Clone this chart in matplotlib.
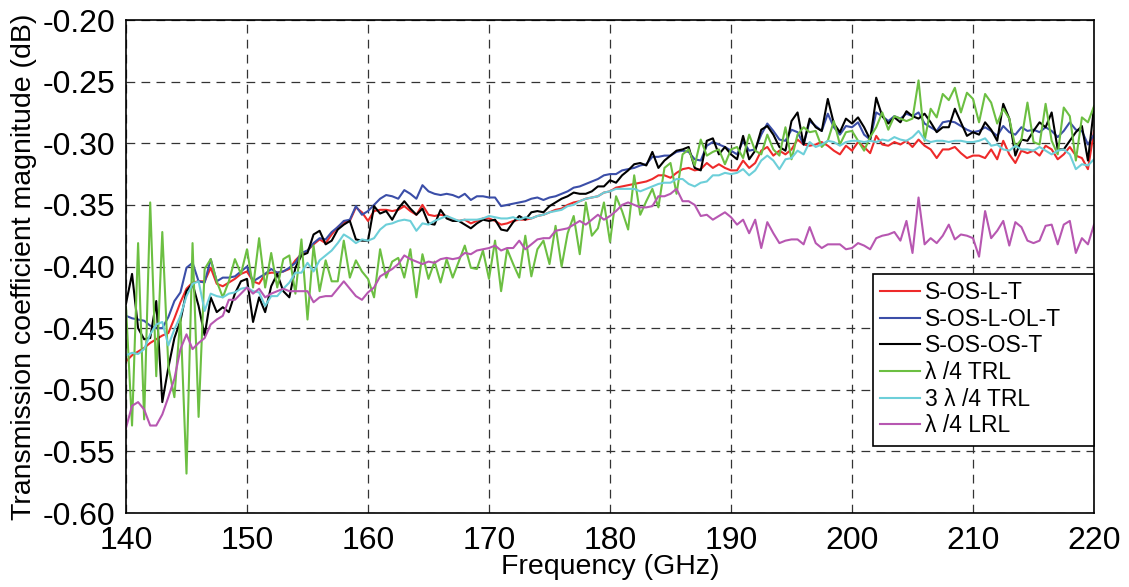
import numpy as np
import matplotlib
matplotlib.use("Agg")
import matplotlib.pyplot as plt
from matplotlib.patches import Rectangle

plt.rcParams['font.family'] = ['Liberation Sans', 'DejaVu Sans']

freq = np.linspace(140, 220, 161)

s_os_l_t = [
 -0.477,-0.472,-0.469,-0.466,-0.462,-0.459,-0.456,-0.454,-0.442,-0.429,-0.418,-0.413,-0.412,-0.412,-0.401,-0.414,-0.416,-0.413,-0.410,-0.406,-0.404,
 -0.412,-0.414,-0.406,-0.405,-0.405,-0.404,-0.402,-0.395,-0.390,-0.387,-0.382,-0.378,-0.381,-0.374,-0.368,-0.364,-0.363,-0.352,-0.356,-0.363,
 -0.355,-0.354,-0.354,-0.355,-0.354,-0.351,-0.355,-0.358,-0.350,-0.358,-0.359,-0.358,-0.359,-0.362,-0.363,-0.362,-0.365,-0.363,-0.361,-0.361,
 -0.363,-0.366,-0.365,-0.363,-0.362,-0.362,-0.361,-0.359,-0.358,-0.356,-0.354,-0.353,-0.350,-0.348,-0.347,-0.345,-0.344,-0.343,-0.340,-0.339,
 -0.336,-0.335,-0.334,-0.333,-0.332,-0.331,-0.329,-0.326,-0.326,-0.328,-0.324,-0.321,-0.320,-0.322,-0.321,-0.316,-0.320,-0.317,-0.320,-0.322,
 -0.322,-0.314,-0.320,-0.316,-0.306,-0.303,-0.310,-0.306,-0.309,-0.305,-0.297,-0.301,-0.302,-0.301,-0.299,-0.302,-0.306,-0.309,-0.302,-0.306,
 -0.299,-0.303,-0.308,-0.294,-0.301,-0.302,-0.299,-0.301,-0.298,-0.303,-0.297,-0.302,-0.305,-0.312,-0.305,-0.305,-0.303,-0.308,-0.312,-0.310,
 -0.310,-0.312,-0.305,-0.313,-0.298,-0.309,-0.316,-0.306,-0.308,-0.306,-0.310,-0.302,-0.305,-0.313,-0.309,-0.303,-0.310,-0.312,-0.321,-0.290]

s_os_l_ol_t = [
 -0.440,-0.442,-0.443,-0.444,-0.448,-0.450,-0.450,-0.441,-0.428,-0.421,-0.401,-0.397,-0.412,-0.413,-0.394,-0.412,-0.409,-0.409,-0.408,-0.404,-0.400,
 -0.412,-0.409,-0.406,-0.402,-0.405,-0.404,-0.401,-0.397,-0.389,-0.387,-0.381,-0.377,-0.378,-0.372,-0.368,-0.363,-0.362,-0.351,-0.358,-0.355,
 -0.350,-0.345,-0.342,-0.343,-0.345,-0.338,-0.341,-0.345,-0.334,-0.339,-0.341,-0.342,-0.341,-0.342,-0.344,-0.341,-0.346,-0.343,-0.343,-0.344,
 -0.344,-0.351,-0.350,-0.349,-0.348,-0.347,-0.345,-0.344,-0.346,-0.344,-0.343,-0.341,-0.339,-0.336,-0.335,-0.333,-0.331,-0.329,-0.326,-0.325,
 -0.325,-0.322,-0.321,-0.320,-0.318,-0.317,-0.311,-0.311,-0.310,-0.310,-0.307,-0.306,-0.307,-0.313,-0.314,-0.302,-0.299,-0.301,-0.303,-0.306,
 -0.309,-0.298,-0.306,-0.305,-0.293,-0.284,-0.290,-0.297,-0.298,-0.289,-0.291,-0.301,-0.282,-0.286,-0.290,-0.276,-0.287,-0.293,-0.286,-0.287,
 -0.283,-0.293,-0.297,-0.275,-0.278,-0.282,-0.278,-0.280,-0.276,-0.278,-0.275,-0.284,-0.287,-0.290,-0.283,-0.282,-0.283,-0.286,-0.289,-0.291,
 -0.290,-0.287,-0.290,-0.294,-0.286,-0.291,-0.293,-0.287,-0.290,-0.289,-0.291,-0.287,-0.290,-0.295,-0.290,-0.283,-0.289,-0.290,-0.301,-0.293]

s_os_os_t = [
 -0.430,-0.406,-0.450,-0.459,-0.458,-0.428,-0.510,-0.482,-0.458,-0.444,-0.420,-0.414,-0.432,-0.456,-0.425,-0.437,-0.433,-0.437,-0.422,-0.412,-0.410,
 -0.445,-0.425,-0.437,-0.416,-0.406,-0.420,-0.425,-0.401,-0.391,-0.389,-0.374,-0.371,-0.382,-0.379,-0.370,-0.366,-0.363,-0.378,-0.379,-0.379,
 -0.351,-0.357,-0.355,-0.362,-0.353,-0.347,-0.353,-0.358,-0.353,-0.365,-0.366,-0.354,-0.361,-0.363,-0.363,-0.366,-0.369,-0.365,-0.362,-0.363,
 -0.362,-0.370,-0.371,-0.364,-0.359,-0.362,-0.356,-0.355,-0.356,-0.351,-0.348,-0.345,-0.343,-0.340,-0.341,-0.341,-0.339,-0.335,-0.335,-0.330,
 -0.332,-0.326,-0.322,-0.317,-0.316,-0.318,-0.307,-0.320,-0.314,-0.310,-0.306,-0.305,-0.303,-0.320,-0.322,-0.298,-0.296,-0.309,-0.303,-0.309,
 -0.313,-0.294,-0.313,-0.306,-0.289,-0.286,-0.293,-0.303,-0.306,-0.282,-0.275,-0.301,-0.280,-0.287,-0.290,-0.264,-0.284,-0.291,-0.280,-0.284,
 -0.279,-0.287,-0.297,-0.263,-0.278,-0.284,-0.279,-0.283,-0.274,-0.278,-0.280,-0.276,-0.283,-0.291,-0.287,-0.287,-0.272,-0.283,-0.294,-0.291,
 -0.293,-0.283,-0.289,-0.298,-0.268,-0.280,-0.310,-0.297,-0.298,-0.290,-0.283,-0.287,-0.275,-0.305,-0.305,-0.298,-0.291,-0.286,-0.314,-0.271]

trl_q = [
 -0.433,-0.529,-0.381,-0.524,-0.348,-0.489,-0.372,-0.481,-0.506,-0.440,-0.568,-0.381,-0.522,-0.402,-0.394,-0.412,-0.425,-0.412,-0.394,-0.406,-0.386,
 -0.417,-0.377,-0.417,-0.389,-0.417,-0.394,-0.391,-0.422,-0.378,-0.443,-0.383,-0.420,-0.395,-0.412,-0.412,-0.379,-0.409,-0.395,-0.404,-0.410,
 -0.425,-0.386,-0.409,-0.396,-0.393,-0.409,-0.386,-0.425,-0.390,-0.410,-0.396,-0.413,-0.394,-0.409,-0.396,-0.383,-0.401,-0.402,-0.387,-0.410,
 -0.379,-0.420,-0.386,-0.398,-0.409,-0.375,-0.408,-0.386,-0.379,-0.398,-0.367,-0.400,-0.373,-0.359,-0.390,-0.348,-0.375,-0.369,-0.348,-0.380,
 -0.343,-0.355,-0.370,-0.326,-0.358,-0.347,-0.337,-0.352,-0.320,-0.316,-0.341,-0.309,-0.305,-0.318,-0.297,-0.310,-0.307,-0.305,-0.317,-0.305,
 -0.303,-0.312,-0.293,-0.306,-0.309,-0.293,-0.305,-0.310,-0.287,-0.313,-0.293,-0.287,-0.291,-0.290,-0.303,-0.298,-0.282,-0.301,-0.291,-0.290,
 -0.298,-0.306,-0.295,-0.287,-0.275,-0.289,-0.278,-0.280,-0.282,-0.280,-0.249,-0.298,-0.272,-0.279,-0.260,-0.265,-0.255,-0.275,-0.259,-0.264,
 -0.283,-0.260,-0.267,-0.284,-0.272,-0.280,-0.303,-0.297,-0.267,-0.299,-0.301,-0.268,-0.298,-0.309,-0.271,-0.278,-0.314,-0.279,-0.283,-0.270]

trl_3q = [
 -0.472,-0.470,-0.471,-0.467,-0.455,-0.447,-0.445,-0.464,-0.451,-0.440,-0.424,-0.414,-0.412,-0.436,-0.422,-0.424,-0.425,-0.422,-0.421,-0.418,-0.417,
 -0.420,-0.421,-0.432,-0.424,-0.424,-0.418,-0.413,-0.405,-0.405,-0.397,-0.404,-0.395,-0.391,-0.387,-0.381,-0.374,-0.377,-0.381,-0.378,-0.379,
 -0.377,-0.370,-0.366,-0.365,-0.363,-0.362,-0.363,-0.371,-0.365,-0.366,-0.363,-0.361,-0.359,-0.361,-0.363,-0.362,-0.362,-0.362,-0.361,-0.359,
 -0.360,-0.361,-0.361,-0.360,-0.362,-0.360,-0.361,-0.359,-0.358,-0.356,-0.355,-0.354,-0.351,-0.350,-0.347,-0.345,-0.344,-0.343,-0.340,-0.339,
 -0.337,-0.337,-0.337,-0.337,-0.339,-0.337,-0.335,-0.333,-0.332,-0.332,-0.329,-0.329,-0.333,-0.335,-0.332,-0.331,-0.326,-0.326,-0.324,-0.325,
 -0.324,-0.321,-0.326,-0.322,-0.314,-0.310,-0.314,-0.321,-0.313,-0.312,-0.306,-0.309,-0.299,-0.303,-0.301,-0.298,-0.299,-0.302,-0.299,-0.298,
 -0.298,-0.299,-0.298,-0.299,-0.297,-0.298,-0.295,-0.297,-0.298,-0.295,-0.290,-0.297,-0.299,-0.298,-0.298,-0.299,-0.298,-0.298,-0.299,-0.299,
 -0.298,-0.296,-0.302,-0.301,-0.305,-0.306,-0.302,-0.305,-0.305,-0.306,-0.303,-0.306,-0.309,-0.306,-0.305,-0.309,-0.321,-0.317,-0.318,-0.313]

lrl_q = [
 -0.531,-0.513,-0.510,-0.516,-0.529,-0.529,-0.520,-0.506,-0.491,-0.467,-0.455,-0.467,-0.462,-0.458,-0.447,-0.443,-0.440,-0.427,-0.427,-0.422,-0.417,
 -0.422,-0.418,-0.425,-0.422,-0.420,-0.418,-0.420,-0.420,-0.420,-0.420,-0.429,-0.425,-0.424,-0.424,-0.418,-0.412,-0.418,-0.424,-0.427,-0.421,
 -0.417,-0.408,-0.405,-0.402,-0.398,-0.391,-0.394,-0.396,-0.398,-0.396,-0.397,-0.394,-0.393,-0.394,-0.393,-0.389,-0.390,-0.387,-0.386,-0.385,
 -0.383,-0.387,-0.385,-0.385,-0.379,-0.386,-0.382,-0.378,-0.377,-0.377,-0.371,-0.370,-0.369,-0.366,-0.363,-0.366,-0.362,-0.358,-0.362,-0.359,
 -0.355,-0.350,-0.348,-0.350,-0.352,-0.352,-0.351,-0.343,-0.343,-0.341,-0.337,-0.347,-0.347,-0.350,-0.359,-0.358,-0.362,-0.359,-0.356,-0.360,
 -0.366,-0.362,-0.373,-0.362,-0.385,-0.364,-0.373,-0.381,-0.379,-0.378,-0.378,-0.382,-0.368,-0.381,-0.385,-0.382,-0.382,-0.382,-0.386,-0.385,
 -0.381,-0.383,-0.386,-0.377,-0.375,-0.374,-0.372,-0.379,-0.363,-0.389,-0.344,-0.382,-0.377,-0.381,-0.375,-0.366,-0.378,-0.374,-0.375,-0.377,
 -0.392,-0.355,-0.377,-0.371,-0.363,-0.383,-0.364,-0.368,-0.379,-0.381,-0.379,-0.367,-0.366,-0.382,-0.366,-0.363,-0.389,-0.377,-0.382,-0.366]

labels = ["S-OS-L-T", "S-OS-L-OL-T", "S-OS-OS-T", "λ /4 TRL", "3 λ /4 TRL", "λ /4 LRL"]
series = [s_os_l_t, s_os_l_ol_t, s_os_os_t, trl_q, trl_3q, lrl_q]
colors = ["#ee2a2a", "#3b4ea8", "#000000", "#6cbf42", "#6dcfd9", "#b757b1"]

xticks = [140, 150, 160, 170, 180, 190, 200, 210, 220]
yticks = [-0.60, -0.55, -0.50, -0.45, -0.40, -0.35, -0.30, -0.25, -0.20]

fig = plt.figure(figsize=(11.29, 5.87), dpi=100)
ax = fig.add_axes([0.1116, 0.126, 0.8574, 0.8399])

for y, c, lab in zip(series, colors, labels):
    ax.plot(freq, y, color=c, lw=1.5, label=lab)

ax.set_xlim(140, 220)
ax.set_ylim(-0.60, -0.20)
ax.set_xticks(xticks)
ax.set_yticks(yticks)
ax.set_xticklabels([str(t) for t in xticks])
ax.set_yticklabels(["%.2f" % t for t in yticks])
ax.tick_params(axis='both', direction='in', length=0, labelsize=23, pad=8)
ax.tick_params(axis='x', pad=9)
ax.grid(True, color='#333333', lw=0.9, linestyle=(0, (7, 5)))
for s in ax.spines.values():
    s.set_linewidth(1.2)
    s.set_color('black')

ax.set_xlabel("Frequency (GHz)", fontsize=20.5, labelpad=-1)
ax.set_ylabel("Transmission coefficient magnitude (dB)", fontsize=20.5, labelpad=4)

# legend frame (MATLAB-style box, wider than its contents)
box_left, box_bottom, box_top = 0.7717, 0.1359, 0.4848
frame = Rectangle((box_left, box_bottom), 1.0 - box_left, box_top - box_bottom,
                  transform=ax.transAxes, facecolor='white', edgecolor='black',
                  lw=1.2, zorder=4.5, clip_on=False)
ax.add_patch(frame)

leg = ax.legend(loc='upper left', bbox_to_anchor=(box_left, box_top), fontsize=16.5,
                frameon=False, handlelength=1.75, handletextpad=0.2,
                labelspacing=0.16, borderpad=0.3, borderaxespad=0.0)
leg.set_zorder(5)

fig.savefig("out.png", dpi=100)
